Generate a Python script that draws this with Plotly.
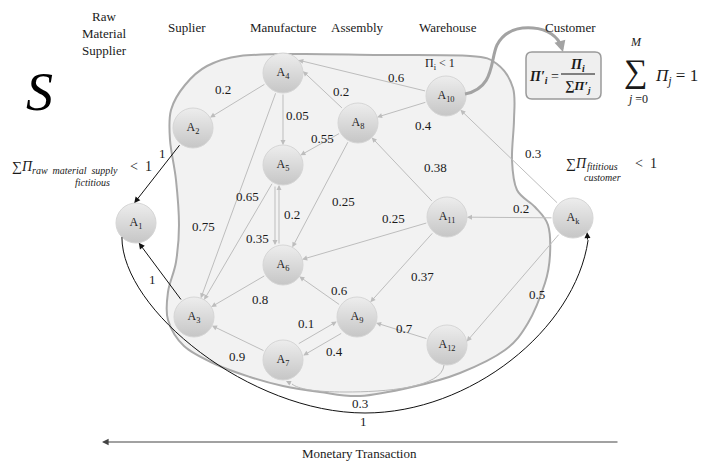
import math
import plotly.graph_objects as go

# ---------------- data ----------------
nodes = ["A1", "A2", "A3", "A4", "A5", "A6", "A7", "A8", "A9", "A10", "A11", "A12", "Ak"]
node_subs = ["1", "2", "3", "4", "5", "6", "7", "8", "9", "10", "11", "12", "k"]

edge_src = ["A4", "A4", "A8", "A10", "A10", "A8", "A4", "A5", "A5", "A6", "A8", "A11",
            "A11", "A6", "A9", "A11", "A7", "A9", "A7", "A12", "Ak", "Ak", "Ak"]
edge_tgt = ["A2", "A5", "A4", "A4", "A8", "A5", "A3", "A3", "A6", "A5", "A6", "A6",
            "A8", "A3", "A6", "A9", "A9", "A7", "A3", "A9", "A11", "A10", "A12"]
edge_w = ["0.2", "0.05", "0.2", "0.6", "0.4", "0.55", "0.75", "0.65", "0.35", "0.2", "0.25", "0.25",
          "0.38", "0.8", "0.6", "0.37", "0.1", "0.4", "0.9", "0.7", "0.2", "0.3", "0.5"]

# fictitious / monetary flows (black)
money_src = ["A2", "A3"]
money_tgt = ["A1", "A1"]
money_w = ["1", "1"]
loop_w = "1"          # A1 -> Ak
back_w = "0.3"        # A12 -> A7

stage_labels = ["Raw<br>Material<br>Supplier", "Suplier", "Manufacture", "Assembly", "Warehouse", "Customer"]

# ---------------- layout (positions in px) ----------------
W, H = 706, 462
R = 20
pos = {"A1": (136, 223), "A2": (193, 128), "A3": (194, 317), "A4": (283, 73),
       "A5": (283, 165), "A6": (283, 265), "A7": (283, 360), "A8": (358, 123),
       "A9": (357, 317), "A10": (446, 96), "A11": (447, 217), "A12": (447, 345),
       "Ak": (573, 218)}
# optional target anchor angle (deg) and perpendicular offset
edge_anchor = {("A10", "A4"): -40, ("A8", "A4"): -5, ("Ak", "A12"): -10}
edge_offset = {("A5", "A6"): (-8, 0), ("A6", "A5"): (-4, 0), ("A7", "A9"): (-3, -5.5), ("A9", "A7"): (3, 5.5)}
edge_label_pos = [(223, 89), (297, 115), (341, 91), (396, 77), (423, 125), (322, 138), (203, 226),
                  (247, 196), (257, 238), (292, 214), (343, 201), (393, 218), (435, 167), (260, 299),
                  (339, 290), (422, 276), (306, 323), (334, 351), (237, 356), (404, 328), (521, 208),
                  (533, 153), (537, 294)]
money_anchor = {("A2", "A1"): -95, ("A3", "A1"): 82}
money_label_pos = [(162, 153), (152, 279)]
stage_pos = [(104, 33), (187, 27), (283, 27), (357, 27), (448, 27), (570, 27)]

SERIF = "Liberation Serif, Times New Roman, serif"
MATH = "Liberation Serif, Times New Roman, serif"
TXT = "#1a1a1a"


def endpoints(s, t, anchor=None, off=(0, 0)):
    sx, sy = pos[s]
    tx, ty = pos[t]
    if anchor is not None:
        a = math.radians(anchor)
        ex, ey = tx + R * math.cos(a), ty + R * math.sin(a)
    else:
        dx, dy = tx - sx, ty - sy
        d = math.hypot(dx, dy)
        ex, ey = tx - R * dx / d, ty - R * dy / d
    dx, dy = ex - sx, ey - sy
    d = math.hypot(dx, dy)
    bx, by = sx + R * dx / d, sy + R * dy / d
    return (bx + off[0], by + off[1]), (ex + off[0], ey + off[1])


def arrow(p0, p1, color, width=1, head=2, size=1.0):
    return dict(x=p1[0], y=p1[1], ax=p0[0], ay=p0[1], xref="x", yref="y", axref="x", ayref="y",
                text="", showarrow=True, arrowhead=head, arrowsize=size, arrowwidth=width,
                arrowcolor=color)


def label(x, y, text, size=13, family=SERIF, color=TXT, xanchor="center"):
    return dict(x=x, y=y, xref="x", yref="y", text=text, showarrow=False, xanchor=xanchor,
                yanchor="middle", font=dict(family=family, size=size, color=color))


def smooth_closed(pts):
    n = len(pts)
    d = "M %.1f,%.1f" % pts[0]
    for i in range(n):
        p0, p1, p2, p3 = pts[i - 1], pts[i], pts[(i + 1) % n], pts[(i + 2) % n]
        c1 = (p1[0] + (p2[0] - p0[0]) / 6, p1[1] + (p2[1] - p0[1]) / 6)
        c2 = (p2[0] - (p3[0] - p1[0]) / 6, p2[1] - (p3[1] - p1[1]) / 6)
        d += " C %.1f,%.1f %.1f,%.1f %.1f,%.1f" % (c1 + c2 + p2)
    return d + " Z"


blob_pts = [(240, 56), (300, 54), (380, 55), (470, 56), (497, 64), (513, 88), (514, 120), (512, 160),
            (517, 190), (535, 207), (548, 225), (550, 255), (545, 283), (528, 323), (505, 350),
            (460, 373), (412, 387), (360, 396), (320, 392), (283, 386), (250, 377), (215, 364),
            (184, 346), (168, 320), (168, 292), (176, 262), (179, 225), (176, 180), (170, 140),
            (171, 110), (185, 85), (207, 66)]

shapes = []
annotations = []

# blob
shapes.append(dict(type="path", path=smooth_closed(blob_pts), xref="x", yref="y",
                   fillcolor="#f2f2f2", line=dict(color="#a9a9a9", width=2), layer="below"))

# gray weighted edges
EC = "#bdbdbd"
for s, t, w, lp in zip(edge_src, edge_tgt, edge_w, edge_label_pos):
    p0, p1 = endpoints(s, t, edge_anchor.get((s, t)), edge_offset.get((s, t), (0, 0)))
    annotations.append(arrow(p0, p1, EC, 1, 2, 1.0))
    annotations.append(label(lp[0], lp[1], w))

# black monetary edges to A1
for s, t, w, lp in zip(money_src, money_tgt, money_w, money_label_pos):
    p0, p1 = endpoints(s, t, money_anchor.get((s, t)))
    annotations.append(arrow(p0, p1, "#111111", 1, 2, 1.2))
    annotations.append(label(lp[0], lp[1], w))

# big loop A1 -> Ak
a1x, a1y = pos["A1"]
akx, aky = pos["Ak"]
st = (a1x + R * math.cos(math.radians(135)), a1y + R * math.sin(math.radians(135)))
en = (akx + R * math.cos(math.radians(45)), aky + R * math.sin(math.radians(45)))
loop_path = ("M %.1f,%.1f C %.1f,310 250,413 365,413 C 470,413 575,330 %.1f,%.1f"
             % (st[0], st[1], st[0], en[0] + 1, en[1] + 8))
shapes.append(dict(type="path", path=loop_path, xref="x", yref="y", line=dict(color="#111111", width=1)))
annotations.append(arrow((en[0] + 0.5, en[1] + 9), en, "#111111", 1, 2, 1.2))
annotations.append(label(363, 421, loop_w))

# A12 -> A7 back curve
b12 = (pos["A12"][0] - 3, pos["A12"][1] + R)
b7 = (pos["A7"][0] + 3, pos["A7"][1] + R + 1)
back_path = ("M %.1f,%.1f C %.1f,388 385,392 345,392 C 315,392 298,389 %.1f,%.1f"
             % (b12[0], b12[1], b12[0] - 2, b7[0] + 6, b7[1] + 3))
shapes.append(dict(type="path", path=back_path, xref="x", yref="y", line=dict(color="#b8b8b8", width=1)))
annotations.append(arrow((b7[0] + 6, b7[1] + 3), b7, "#b8b8b8", 1, 2, 1.0))
annotations.append(label(360, 403, back_w))

# A10 -> formula box thick curve
a10 = pos["A10"]
curve = ("M %.1f,%.1f C 495,88 490,60 497,45 C 505,30 520,27 533,28 C 548,29 558,37 561,46"
         % (a10[0] + R - 1, a10[1] - 2))
shapes.append(dict(type="path", path=curve, xref="x", yref="y", line=dict(color="#a3a3a3", width=3)))
annotations.append(arrow((561, 45), (563, 52), "#a3a3a3", 2.5, 2, 0.9))

# formula box
bx0, by0, bx1, by1, rr = 526, 52, 601, 99, 6
box = ("M %d,%d L %d,%d Q %d,%d %d,%d L %d,%d Q %d,%d %d,%d L %d,%d Q %d,%d %d,%d L %d,%d Q %d,%d %d,%d Z"
       % (bx0 + rr, by0, bx1 - rr, by0, bx1, by0, bx1, by0 + rr, bx1, by1 - rr, bx1, by1, bx1 - rr, by1,
          bx0 + rr, by1, bx0, by1, bx0, by1 - rr, bx0, by0 + rr, bx0, by0, bx0 + rr, by0))
shapes.append(dict(type="path", path=box, xref="x", yref="y", fillcolor="#efefef",
                   line=dict(color="#9a9a9a", width=1.5)))
annotations.append(label(544, 77, "<b><i>Π′<sub>i</sub></i></b> =", 14, MATH))
annotations.append(label(577, 65, "<b><i>Π<sub>i</sub></i></b>", 14, MATH))
shapes.append(dict(type="line", x0=561, x1=595, y0=74, y1=74, xref="x", yref="y",
                   line=dict(color="#111111", width=1)))
annotations.append(label(578, 86, "<b><i>∑Π′<sub>j</sub></i></b>", 13, MATH))

# sum formula
annotations.append(label(636, 71, "∑", 33, MATH))
annotations.append(label(636, 42, "<i>M</i>", 12, MATH))
annotations.append(label(637, 99, "<i>j</i> =0", 12, MATH))
annotations.append(label(653, 77, "<i>Π<sub>j</sub></i> = 1", 17, MATH, xanchor="left"))

# Pi_i < 1
annotations.append(label(440, 64, "Π<sub>i</sub> < 1", 12, SERIF))

# left fictitious formula
annotations.append(label(10, 166, "∑<i>Π</i>", 14, MATH, xanchor="left"))
annotations.append(label(30, 170, "<i>raw  material  supply</i>", 10, MATH, xanchor="left"))
annotations.append(label(92, 182, "<i>fictitious</i>", 10, MATH))
annotations.append(label(128, 166, "<  1", 14, MATH, xanchor="left"))

# right fictitious formula
annotations.append(label(564, 163, "∑<i>Π</i>", 14, MATH, xanchor="left"))
annotations.append(label(602, 166, "<i>fititious</i>", 10, MATH))
annotations.append(label(602, 177, "<i>customer</i>", 10, MATH))
annotations.append(label(633, 163, "<  1", 14, MATH, xanchor="left"))

# big S
annotations.append(label(39, 92, "<i>S</i>", 54, SERIF, "#000000"))

# stage headers
for txt, (x, y) in zip(stage_labels, stage_pos):
    annotations.append(label(x, y, txt, 13, SERIF))

# monetary transaction arrow
annotations.append(arrow((619, 442), (102, 442), "#444444", 1.2, 2, 1.1))
annotations.append(label(359, 453, "Monetary Transaction", 13, SERIF))

# nodes
fig = go.Figure()
fig.add_trace(go.Scatter(
    x=[pos[n][0] for n in nodes], y=[pos[n][1] for n in nodes],
    mode="markers+text",
    text=["A<sub>%s</sub>" % s for s in node_subs],
    textposition="middle center",
    textfont=dict(family=SERIF, size=12, color="#222222"),
    marker=dict(size=2 * R, color="#ededed", gradient=dict(type="vertical", color="#c6c6c6"),
                line=dict(color="#d6d6d6", width=1)),
    hoverinfo="skip", showlegend=False))

fig.update_layout(
    width=W, height=H, margin=dict(l=0, r=0, t=0, b=0),
    paper_bgcolor="white", plot_bgcolor="white",
    xaxis=dict(range=[0, W], visible=False, fixedrange=True),
    yaxis=dict(range=[H, 0], visible=False, fixedrange=True),
    shapes=shapes, annotations=annotations, showlegend=False)

fig.write_html("out.html", config={"displayModeBar": False},
               post_script="document.body.style.margin='0';")
